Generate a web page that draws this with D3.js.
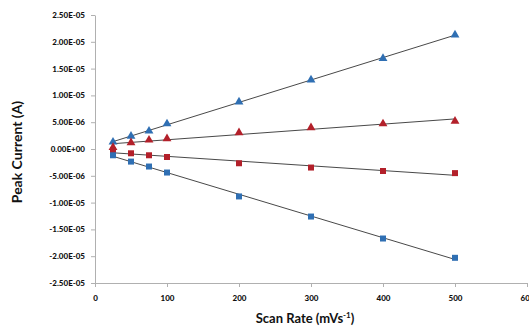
<!DOCTYPE html>
<html>
<head>
<meta charset="utf-8">
<script src="https://cdn.jsdelivr.net/npm/d3@7/dist/d3.min.js"></script>
<style>
  body { margin: 0; background: #fff; }
  svg { display: block; }
  .tick text { font-family: Lato, "Open Sans", sans-serif; font-weight: 900; font-size: 8px; fill: #111; }
  .axis-title { font-family: Lato, "Open Sans", sans-serif; font-weight: bold; fill: #111; }
</style>
</head>
<body>
<figure id="chart" style="margin:0"></figure>
<script>
// scan rates (mV/s)
const scanRates = [25, 50, 75, 100, 200, 300, 400, 500];

// peak currents (A)
const blueTriangle = [1.3e-6, 2.4e-6, 3.35e-6, 4.7e-6, 8.8e-6, 12.9e-6, 16.9e-6, 21.3e-6];
const redTriangle = [0.3e-6, 1.2e-6, 1.67e-6, 1.93e-6, 3.05e-6, 3.98e-6, 4.7e-6, 5.2e-6];
const redSquare = [-0.3e-6, -0.8e-6, -1.17e-6, -1.49e-6, -2.66e-6, -3.46e-6, -4.1e-6, -4.5e-6];
const blueSquare = [-1.17e-6, -2.35e-6, -3.27e-6, -4.39e-6, -8.85e-6, -12.6e-6, -16.7e-6, -20.3e-6];

const xTicks = [0, 100, 200, 300, 400, 500, 600];
const yTicks = [-2.5e-5, -2e-5, -1.5e-5, -1e-5, -5e-6, 0, 5e-6, 1e-5, 1.5e-5, 2e-5, 2.5e-5];

const series = [
  { values: blueTriangle, color: "#2f6fb3", shape: d3.symbolTriangle },
  { values: redTriangle, color: "#b3202a", shape: d3.symbolTriangle },
  { values: redSquare, color: "#b3202a", shape: d3.symbolSquare },
  { values: blueSquare, color: "#2f6fb3", shape: d3.symbolSquare }
];

const W = 529, H = 326;
const mLeft = 95, mRight = 527, mTop = 15, mBottom = 283;

const svg = d3.select("#chart").append("svg")
  .attr("width", W)
  .attr("height", H);

const x = d3.scaleLinear().domain([0, 600]).range([mLeft, mRight]);
const y = d3.scaleLinear().domain([-2.5e-5, 2.5e-5]).range([mBottom, mTop]);

function sci(v) {
  if (v === 0) return "0.00E+00";
  const [m, e] = v.toExponential(2).toUpperCase().split("E");
  const ex = parseInt(e, 10);
  return m + "E" + (ex < 0 ? "-" : "+") + String(Math.abs(ex)).padStart(2, "0");
}

svg.append("g")
  .attr("transform", "translate(" + mLeft + ",0)")
  .call(d3.axisLeft(y).tickValues(yTicks).tickFormat(sci).tickSize(4).tickPadding(6).tickSizeOuter(0));

svg.append("g")
  .attr("transform", "translate(0," + mBottom + ")")
  .call(d3.axisBottom(x).tickValues(xTicks).tickFormat(d3.format("d")).tickSize(4).tickPadding(8).tickSizeOuter(0));

svg.selectAll(".domain, .tick line").attr("stroke", "#b0b0b0");

// linear trend lines
series.forEach(s => {
  const n = scanRates.length;
  const mx = d3.mean(scanRates), my = d3.mean(s.values);
  const slope = d3.sum(scanRates, (r, i) => (r - mx) * (s.values[i] - my)) /
    d3.sum(scanRates, r => (r - mx) * (r - mx));
  const icpt = my - slope * mx;
  const ends = [scanRates[0], scanRates[n - 1]];
  svg.append("path")
    .datum(ends)
    .attr("fill", "none")
    .attr("stroke", "#333")
    .attr("stroke-width", 0.9)
    .attr("d", d3.line()
      .x(d => x(d))
      .y(d => y(icpt + slope * d)));
});

series.forEach(s => {
  svg.selectAll(null)
    .data(s.values)
    .enter()
    .append("path")
    .attr("transform", (d, i) => "translate(" + x(scanRates[i]) + "," + y(d) + ")")
    .attr("d", d3.symbol().type(s.shape).size(s.shape === d3.symbolTriangle ? 34 : 36))
    .attr("fill", s.color);
});

const xt = svg.append("text")
  .attr("class", "axis-title")
  .attr("x", 305)
  .attr("y", 323)
  .attr("text-anchor", "middle")
  .attr("font-size", 13);
xt.append("tspan").text("Scan Rate (mVs");
xt.append("tspan").attr("font-size", 8).attr("dy", -5).text("-1");
xt.append("tspan").attr("dy", 5).text(")");

svg.append("text")
  .attr("class", "axis-title")
  .attr("transform", "translate(22,152) rotate(-90)")
  .attr("text-anchor", "middle")
  .attr("font-size", 14)
  .text("Peak Current  (A)");
</script>
</body>
</html>
